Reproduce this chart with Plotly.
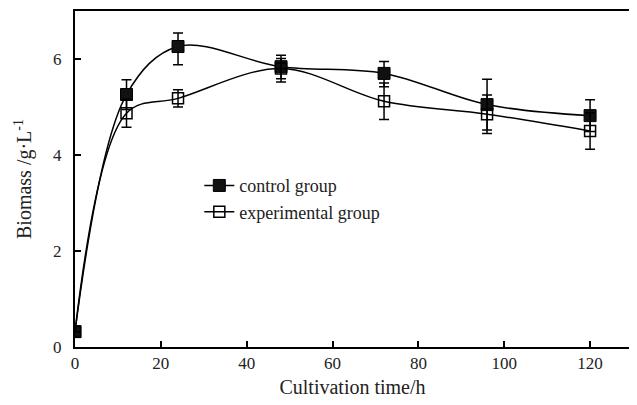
import plotly.graph_objects as go

time_h = [0, 12, 24, 48, 72, 96, 120]
control = [0.32, 5.26, 6.26, 5.84, 5.70, 5.05, 4.82]
control_err_plus = [0.0, 0.31, 0.28, 0.17, 0.25, 0.53, 0.33]
control_err_minus = [0.0, 0.31, 0.38, 0.25, 0.28, 0.53, 0.33]
experimental = [0.32, 4.87, 5.18, 5.80, 5.12, 4.85, 4.50]
experimental_err = [0.0, 0.29, 0.18, 0.28, 0.38, 0.40, 0.38]

font_family = "Liberation Serif, Times New Roman, serif"

fig = go.Figure()
fig.add_trace(go.Scatter(
    x=time_h, y=control, name="control group",
    mode="lines+markers",
    line=dict(color="black", width=1.5, shape="spline", smoothing=1.0),
    marker=dict(symbol="square", size=12, color="#111111", line=dict(color="black", width=1)),
    error_y=dict(type="data", array=control_err_plus, arrayminus=control_err_minus,
                 symmetric=False, color="black", thickness=1.5, width=5),
))
fig.add_trace(go.Scatter(
    x=time_h, y=experimental, name="experimental group",
    mode="lines+markers",
    line=dict(color="black", width=1.5, shape="spline", smoothing=1.0),
    marker=dict(symbol="square-open", size=11, color="black", line=dict(color="black", width=1.5)),
    error_y=dict(type="data", array=experimental_err, color="black", thickness=1.5, width=5),
))

fig.update_layout(
    width=629, height=397,
    margin=dict(l=67, r=7, t=3, b=58),
    paper_bgcolor="white", plot_bgcolor="white",
    font=dict(family=font_family, size=17, color="#222222"),
    showlegend=True,
    legend=dict(x=0.224, y=0.535, xanchor="left", yanchor="top",
                bgcolor="rgba(0,0,0,0)", font=dict(size=18, family=font_family),
                tracegroupgap=0),
    xaxis=dict(range=[0, 129.3], tickvals=[0, 20, 40, 60, 80, 100, 120],
               ticks="inside", ticklen=6, tickwidth=1.5, tickcolor="black",
               showline=True, linecolor="black", linewidth=2, mirror=True,
               showgrid=False, zeroline=False, automargin=False,
               title=dict(text="Cultivation time/h", font=dict(size=20, family=font_family), standoff=8)),
    yaxis=dict(range=[0, 7.0], tickvals=[0, 2, 4, 6],
               ticks="inside", ticklen=6, tickwidth=1.5, tickcolor="black",
               showline=True, linecolor="black", linewidth=2, mirror=True,
               showgrid=False, zeroline=False, automargin=False, ticklabelstandoff=8,
               title=dict(text="Biomass /g·L<sup>-1</sup>", font=dict(size=20, family=font_family), standoff=16)),
)

fig.write_html("out.html")
